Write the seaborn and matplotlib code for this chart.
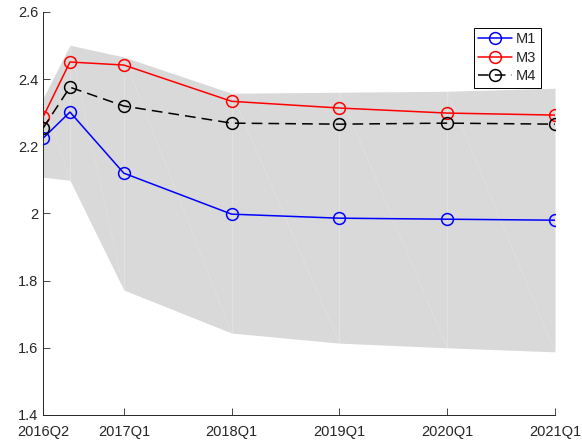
import numpy as np
import pandas as pd
import seaborn as sns
import matplotlib.pyplot as plt

# quarters since 2016Q2
quarters = [0, 1, 3, 7, 11, 15, 19]
tick_pos = [0, 3, 7, 11, 15, 19]
tick_labels = ["2016Q2", "2017Q1", "2018Q1", "2019Q1", "2020Q1", "2021Q1"]

m1 = [2.224, 2.302, 2.120, 1.998, 1.986, 1.983, 1.980]
m3 = [2.287, 2.451, 2.442, 2.334, 2.314, 2.299, 2.293]
m4 = [2.254, 2.376, 2.320, 2.269, 2.266, 2.269, 2.266]

band_hi = [2.343, 2.501, 2.466, 2.358, 2.361, 2.364, 2.373]
band_lo = [2.108, 2.099, 1.772, 1.644, 1.614, 1.600, 1.588]

sns.set_style("ticks")
plt.rcParams["font.family"] = ["Liberation Sans", "DejaVu Sans"]

fig = plt.figure(figsize=(5.82, 4.42), dpi=100)
ax = fig.add_axes([0.0739, 0.0611, 0.8797, 0.9118])

ax.fill_between(quarters, band_lo, band_hi, color="#d9d9d9", lw=0, zorder=1)
# faint mesh lines of the band
ax.vlines(quarters[1:], band_lo[1:], band_hi[1:], color="white", lw=0.5, alpha=0.3, zorder=1.5)
for i in range(len(quarters) - 1):
    ax.plot([quarters[i], quarters[i + 1]], [band_hi[i], band_lo[i + 1]],
            color="white", lw=0.5, alpha=0.2, zorder=1.5)

df = pd.DataFrame({"q": quarters, "M1": m1, "M3": m3, "M4": m4})
styles = {"M1": ("#0000ff", "-"), "M3": ("#ff0000", "-"), "M4": ("black", (0, (7, 4)))}
for name, (col, ls) in styles.items():
    sns.lineplot(data=df, x="q", y=name, ax=ax, color=col, linestyle=ls,
                 marker="o", markersize=8.5, markerfacecolor="none",
                 markeredgecolor=col, markeredgewidth=1.1, lw=1.1,
                 label=name, zorder=3)

ax.set_xlim(0, 19)
ax.set_ylim(1.4, 2.6)
ax.set_xticks(tick_pos)
ax.set_xticklabels(tick_labels)
ax.set_yticks([1.4, 1.6, 1.8, 2.0, 2.2, 2.4, 2.6])
ax.set_yticklabels(["1.4", "1.6", "1.8", "2", "2.2", "2.4", "2.6"])
ax.set_xlabel("")
ax.set_ylabel("")
ax.tick_params(direction="in", length=5, width=0.6, colors="#262626", labelsize=10.5)
ax.tick_params(axis="x", pad=7)
for s in ["top", "right"]:
    ax.spines[s].set_visible(False)
for s in ["left", "bottom"]:
    ax.spines[s].set_linewidth(0.7)
    ax.spines[s].set_color("#262626")

leg = ax.legend(loc="upper right", bbox_to_anchor=(0.972, 0.96), fontsize=10.5,
                fancybox=False, edgecolor="black", framealpha=1,
                handlelength=2.3, borderpad=0.3, labelspacing=0.3, handletextpad=0.3,
                borderaxespad=0)
leg.get_frame().set_linewidth(0.7)

fig.savefig("out.png", dpi=100)
